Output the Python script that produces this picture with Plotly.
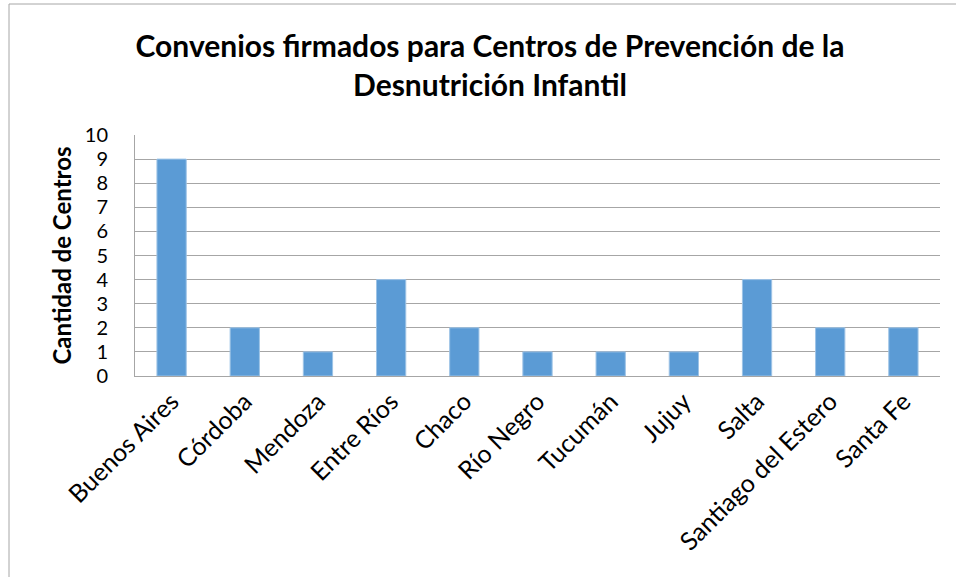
import plotly.graph_objects as go

categories = ["Buenos Aires", "Córdoba", "Mendoza", "Entre Ríos", "Chaco", "Río Negro",
              "Tucumán", "Jujuy", "Salta", "Santiago del Estero", "Santa Fe"]
values = [9, 2, 1, 4, 2, 1, 1, 1, 4, 2, 2]
y_ticks = list(range(0, 11))
title_text = "Convenios firmados para Centros de Prevención de la<br>Desnutrición Infantil"
y_title = "Cantidad de Centros"

FONT = "Lato"
L, R, T, B = 135, 16, 135, 201
W, H = 956, 577
pw = W - L - R
ph = H - T - B

fig = go.Figure(go.Bar(
    x=categories, y=values,
    marker=dict(color="#5B9BD5", line=dict(color="#9DC3E6", width=1)),
))

fx = (9 - L) / pw
fy_top = (H - B - 4) / ph
fig.add_shape(type="line", xref="paper", yref="paper", x0=fx, x1=fx, y0=-2, y1=fy_top,
              line=dict(color="#A6A6A6", width=1))
fig.add_shape(type="line", xref="paper", yref="paper", x0=fx, x1=1.5, y0=fy_top, y1=fy_top,
              line=dict(color="#A6A6A6", width=1))

fig.update_layout(
    width=W, height=H,
    margin=dict(l=L, r=R, t=T, b=B, autoexpand=False),
    paper_bgcolor="white", plot_bgcolor="white",
    bargap=0.6,
    showlegend=False,
    title=dict(text=title_text, x=490 / W, xanchor="center", xref="container",
               y=1 - 57 / H, yanchor="top", yref="container",
               font=dict(family=FONT, size=30, color="black", weight="bold")),
    xaxis=dict(showgrid=False, showline=True, linecolor="#A6A6A6", linewidth=1,
               tickangle=-45, tickfont=dict(family=FONT, size=25, color="black"),
               ticks=""),
    yaxis=dict(range=[0, 10], tickvals=y_ticks, showgrid=True, gridcolor="#A6A6A6",
               gridwidth=1, showline=True, linecolor="#A6A6A6", linewidth=1,
               ticks="", ticklabelstandoff=22,
               tickfont=dict(family=FONT, size=20, color="black"),
               title=dict(text=y_title, standoff=6,
                          font=dict(family=FONT, size=24, color="black", weight="bold")),
               zeroline=False),
)

fig.write_html("out.html", config={"displayModeBar": False},
               post_script="document.body.style.margin='0px';")
